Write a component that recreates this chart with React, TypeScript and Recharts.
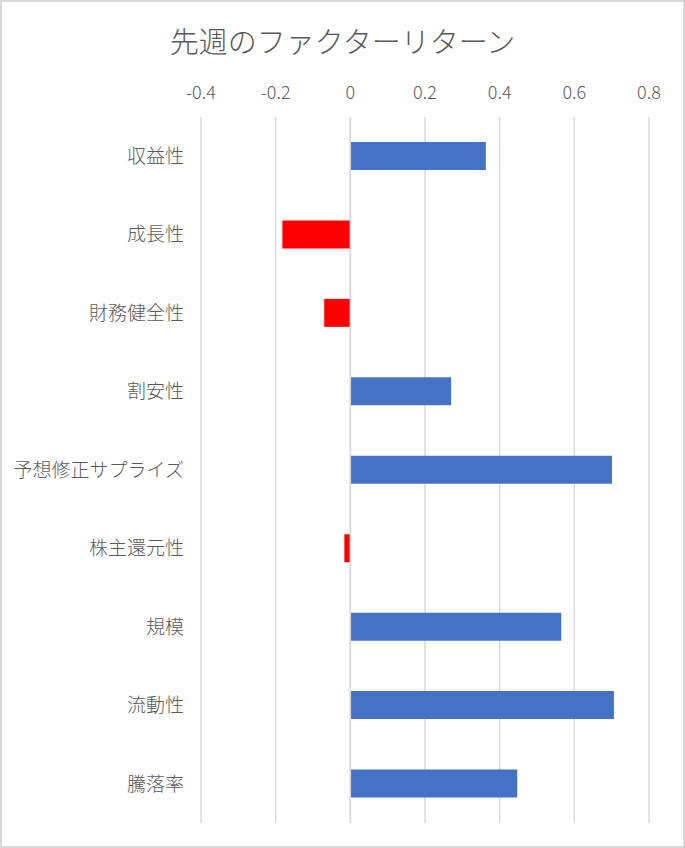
import { BarChart, Bar, XAxis, YAxis, CartesianGrid, Cell, ReferenceLine } from "recharts"

const factors = [
  "収益性",
  "成長性",
  "財務健全性",
  "割安性",
  "予想修正サプライズ",
  "株主還元性",
  "規模",
  "流動性",
  "騰落率",
]

const returns = [0.363, -0.182, -0.07, 0.27, 0.701, -0.016, 0.565, 0.706, 0.447]

const xTicks = [-0.4, -0.2, 0, 0.2, 0.4, 0.6, 0.8]

const data = factors.map((name, i) => ({ name, value: returns[i] }))

const FONT = "'Noto Sans CJK JP Light', 'Noto Sans CJK JP', 'Noto Sans', sans-serif"
const TEXT = "#595959"

export default function App() {
  return (
    <div style={{ position: "absolute", left: 0, top: 0, width: 685, height: 848, background: "#fff" }}>
      <div
        style={{
          position: "absolute",
          left: 0,
          top: 19,
          width: 685,
          textAlign: "center",
          fontFamily: FONT,
          fontSize: 29,
          fontWeight: 300,
          color: TEXT,
          lineHeight: "42px",
        }}
      >
        先週のファクターリターン
      </div>
      <BarChart
        width={685}
        height={848}
        data={data}
        layout="vertical"
        margin={{ top: 77, right: 36, bottom: 25, left: 0 }}
      >
        <CartesianGrid horizontal={false} stroke="#d9d9d9" strokeWidth={1.5} />
        <XAxis
          type="number"
          orientation="top"
          domain={[-0.4, 0.8]}
          ticks={xTicks}
          axisLine={false}
          tickLine={false}
          tickSize={0}
          tickMargin={18}
          height={40}
          tick={{ fill: TEXT, fontSize: 18, fontFamily: FONT, fontWeight: 300 }}
        />
        <YAxis
          type="category"
          dataKey="name"
          width={201}
          axisLine={false}
          tickLine={false}
          tickSize={0}
          tickMargin={17}
          interval={0}
          tick={{ fill: TEXT, fontSize: 19, fontFamily: FONT, fontWeight: 300 }}
        />
        <Bar dataKey="value" barSize={28} isAnimationActive={false}>
          {data.map((d, i) => (
            <Cell key={`cell-${i}`} fill={d.value < 0 ? "#ff0000" : "#4472c4"} />
          ))}
        </Bar>
        <ReferenceLine x={0} stroke="#d9d9d9" strokeWidth={1.5} />
      </BarChart>
      <div
        style={{
          position: "absolute",
          left: 0,
          top: 0,
          width: 685,
          height: 848,
          boxSizing: "border-box",
          border: "2px solid #d9d9d9",
          pointerEvents: "none",
        }}
      />
    </div>
  )
}
